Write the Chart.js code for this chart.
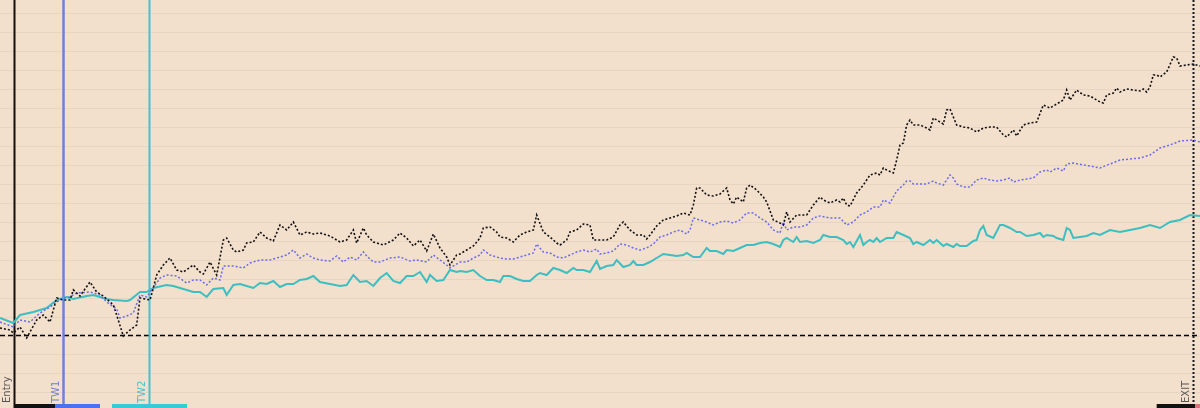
<!DOCTYPE html>
<html>
<head>
<meta charset="utf-8">
<script src="https://cdn.jsdelivr.net/npm/chart.js@4.4.1/dist/chart.umd.min.js"></script>
<style>
  html, body { margin: 0; padding: 0; background: #f2dfcc; }
  #wrap { width: 1200px; height: 408px; position: relative; }
</style>
</head>
<body>
<div id="wrap"><canvas id="pnl"></canvas></div>
<script>
// P&L in ticks from the entry price, x in bars
const stratBars = [0,3,4,6,8,11,13,15,17,19,21,22,24,27,29,31,34,35,37,39,41,42,45,46,47,49,51,53,55,58,
  60,61,63,65,67,68,70,71,73,74,76,78,80,82,84,86,88,90,92,94,96,99,102,104,106,107,109,110,112,115,118,120,122,124,126,128,130,132,134,135,137,138,140,142,144,145,147,149,
  150,152,154,156,158,160,161,163,165,167,168,170,171,173,175,177,178,180,182,184,186,187,189,191,193,194,195,197,199,201,203,205,207,208,209,210,212,214,216,218,219,220,221,223,224,225,227,229,230,232,234,235,236,237,239,
  240,242,244,246,247,249,251,252,253,254,255,257,259,261,263,264,265,266,268,269,270,271,272,273,274,276,278,279,280,281,283,284,285,287,289,291,293,295,297,299,301,302,304,305,307,309,311,313,315,317,319,320,321,323,325,327,329,
  330,331,332,334,335,336,338,340,342,343,344,345,346,347,348,350,352,353,354,356,358,360];
const stratPnl = [8,6,3,9,-2,16,21,14,38,36,36,46,40,54,44,40,31,21,0,6,11,38,36,48,61,71,78,66,64,71,
  64,62,74,61,96,98,86,84,86,93,94,104,98,95,111,106,114,101,104,102,103,100,94,96,106,93,108,101,94,91,96,103,98,90,96,85,102,88,79,71,81,82,86,90,98,108,109,104,
  99,98,94,101,104,106,121,104,99,93,91,96,104,106,112,111,96,96,96,99,111,114,106,101,101,97,101,110,116,118,120,123,121,131,148,148,141,140,142,148,136,132,139,134,148,151,146,139,134,116,113,111,124,114,121,
  121,121,131,139,136,133,136,134,138,131,130,143,151,161,163,161,168,166,163,176,191,193,211,216,211,211,208,206,218,216,212,226,227,211,209,208,204,208,209,209,201,199,206,200,211,213,214,231,228,232,236,246,236,246,241,240,236,
  234,233,241,243,248,244,247,246,245,247,244,249,261,261,259,264,279,278,270,271,272,270];

const benchBars = [0,4,6,9,12,15,17,19,21,23,27,30,32,35,36,38,40,42,44,47,48,50,53,56,58,
  60,62,64,66,67,70,73,75,78,81,84,86,88,90,92,94,96,99,101,103,105,107,109,110,112,114,117,120,123,125,128,130,132,134,135,138,140,142,144,145,147,
  150,152,154,156,158,160,161,163,165,167,169,171,173,175,177,179,180,182,184,186,188,190,192,194,196,198,200,202,204,206,207,208,210,212,214,216,218,220,222,224,226,228,230,232,234,235,236,238,
  240,242,244,246,249,252,254,256,258,260,262,264,265,267,269,271,272,273,274,276,278,280,281,283,285,286,287,289,291,293,295,297,299,301,303,304,306,308,310,312,314,315,317,319,320,322,325,327,330,
  336,342,345,348,351,354,358,360];
const benchPnl = [14,9,16,14,23,29,34,38,39,43,44,41,34,27,18,20,23,41,39,53,58,61,60,53,56,
  56,51,58,56,70,70,68,73,76,76,79,81,86,78,82,78,76,75,80,74,79,76,84,80,74,74,78,79,75,76,74,81,76,71,68,74,74,78,81,86,81,
  78,77,77,79,81,83,92,84,83,79,78,81,84,86,84,87,82,83,85,92,91,88,86,88,92,99,101,104,106,102,106,118,116,114,111,114,115,113,116,123,123,118,114,106,103,114,106,109,
  109,111,118,120,118,118,111,114,121,124,129,129,136,133,145,151,155,155,152,152,152,155,153,151,161,158,152,149,149,156,158,156,155,156,158,154,156,157,158,164,166,164,168,165,172,173,171,170,168,
  176,178,181,188,191,195,196,194];

const baseBars = [0,4,6,10,14,17,20,22,26,28,32,34,38,39,42,44,46,50,52,56,58,
  60,62,64,67,68,70,72,74,76,78,80,82,84,86,88,90,92,94,96,99,102,104,106,108,110,112,114,116,118,120,122,124,126,128,129,131,133,135,137,138,140,142,144,146,148,
  150,151,153,155,157,159,161,162,164,166,168,170,172,173,175,177,179,180,182,184,185,187,189,190,191,193,195,197,199,201,203,205,206,208,210,212,213,215,217,218,220,222,224,226,228,230,232,234,235,236,238,239,
  240,242,244,246,247,249,251,253,254,255,256,258,259,260,261,262,263,264,266,268,269,271,273,274,275,277,279,280,281,283,284,286,287,288,290,292,293,294,295,296,298,300,301,303,305,306,308,310,312,313,314,316,317,319,320,321,322,324,326,328,330,
  333,336,339,342,345,348,351,354,357,360];
const basePnl = [18,13,21,24,28,36,39,37,40,41,37,36,35,36,44,44,48,51,50,46,44,
  44,39,47,48,41,51,52,50,48,53,52,55,49,52,52,56,57,60,54,52,50,51,61,54,55,50,58,63,55,53,60,60,64,54,61,55,56,66,64,65,64,66,60,56,56,
  54,60,60,57,55,55,61,63,61,68,66,63,68,66,66,64,75,67,70,71,76,69,71,75,71,71,74,78,82,81,80,81,83,79,79,88,85,85,82,86,85,88,91,91,93,94,92,89,96,98,94,99,
  94,95,93,96,101,99,99,96,92,94,89,101,91,94,96,94,98,94,98,98,104,101,98,92,94,91,96,93,96,90,92,89,92,90,90,95,96,106,110,101,98,111,111,108,104,104,100,101,103,99,101,100,98,96,108,106,98,99,100,103,101,
  106,104,106,108,111,108,114,116,121,120];

// event markers (bar positions) and the bottom bands
const markerNames = ['Entry', 'TW1', 'TW2', 'EXIT'];
const markerBars = [4.2, 18.9, 44.7, 357.9];
const bandFrom = [4.2, 16.5, 33.6, 347, 358.6];
const bandTo = [16.5, 30, 56.1, 358.6, 360];

const markerStyle = [
  { color: '#111111', text: '#555555', dash: [], width: 2 },
  { color: '#6f80d8', text: '#6f80d8', dash: [], width: 2.5 },
  { color: '#44c2cf', text: '#44c2cf', dash: [], width: 2 },
  { color: '#1a1a1a', text: '#555555', dash: [2, 2], width: 2 }
];
const bandColors = ['#111111', '#4e6ff0', '#3cc9d6', '#111111', '#e0707a'];

const GRID = 18.95;

const toPoints = (xs, ys) => xs.map((x, i) => ({ x: x, y: ys[i] }));

const backdrop = {
  id: 'backdrop',
  beforeDraw(chart) {
    const { ctx, width, height } = chart;
    ctx.save();
    ctx.fillStyle = '#f2dfcc';
    ctx.fillRect(0, 0, width, height);
    ctx.restore();
  },
  beforeDatasetsDraw(chart) {
    const { ctx, chartArea, scales } = chart;
    const xs = scales.x, ys = scales.y;
    ctx.save();
    // entry level
    const y0 = Math.round(ys.getPixelForValue(0)) - 0.5;
    ctx.strokeStyle = '#000';
    ctx.lineWidth = 1.5;
    ctx.setLineDash([5, 3]);
    ctx.beginPath();
    ctx.moveTo(chartArea.left, y0);
    ctx.lineTo(chartArea.right, y0);
    ctx.stroke();

    markerBars.forEach((b, i) => {
      const st = markerStyle[i];
      const px = Math.round(xs.getPixelForValue(b)) + 0.5;
      ctx.strokeStyle = st.color;
      ctx.lineWidth = st.width;
      ctx.setLineDash(st.dash);
      ctx.beginPath();
      ctx.moveTo(px, chartArea.top);
      ctx.lineTo(px, chartArea.bottom);
      ctx.stroke();
    });
    ctx.restore();
  },
  afterDatasetsDraw(chart) {
    const { ctx, chartArea, scales } = chart;
    const xs = scales.x;
    ctx.save();
    ctx.setLineDash([]);
    bandFrom.forEach((f, i) => {
      const a = xs.getPixelForValue(f), b = xs.getPixelForValue(bandTo[i]);
      ctx.fillStyle = bandColors[i];
      ctx.fillRect(a, chartArea.bottom - 4, b - a, 4);
    });
    ctx.font = '10px "DejaVu Sans", sans-serif';
    ctx.textAlign = 'left';
    ctx.textBaseline = 'middle';
    markerBars.forEach((b, i) => {
      const px = xs.getPixelForValue(b);
      ctx.save();
      ctx.translate(px - 7, chartArea.bottom - 5);
      ctx.rotate(-Math.PI / 2);
      ctx.fillStyle = markerStyle[i].text;
      ctx.fillText(markerNames[i], 0, 0);
      ctx.restore();
    });
    ctx.restore();
  }
};

new Chart(document.getElementById('pnl'), {
  type: 'line',
  data: {
    datasets: [
      {
        label: 'Baseline',
        data: toPoints(baseBars, basePnl),
        borderColor: '#3dbfc2',
        borderWidth: 2,
        pointRadius: 0,
        tension: 0,
        order: 3
      },
      {
        label: 'Benchmark',
        data: toPoints(benchBars, benchPnl),
        borderColor: '#6b6bec',
        borderWidth: 1.5,
        borderDash: [2, 2],
        pointRadius: 0,
        tension: 0,
        order: 2
      },
      {
        label: 'Strategy',
        data: toPoints(stratBars, stratPnl),
        borderColor: '#111111',
        borderWidth: 1.6,
        borderDash: [2, 2],
        pointRadius: 0,
        tension: 0,
        order: 1
      }
    ]
  },
  options: {
    responsive: true,
    maintainAspectRatio: false,
    animation: false,
    layout: { padding: 0 },
    plugins: {
      legend: { display: false },
      tooltip: { enabled: false }
    },
    scales: {
      x: {
        type: 'linear',
        display: false,
        min: 0,
        max: 360
      },
      y: {
        type: 'linear',
        min: -72,
        max: 336,
        afterBuildTicks(scale) {
          const ticks = [];
          for (let k = -3; k <= 17; k++) ticks.push({ value: k * GRID });
          scale.ticks = ticks;
        },
        ticks: { display: false },
        border: { display: false },
        grid: { color: '#e7d4c2', lineWidth: 1, drawTicks: false }
      }
    }
  },
  plugins: [backdrop]
});
</script>
</body>
</html>
